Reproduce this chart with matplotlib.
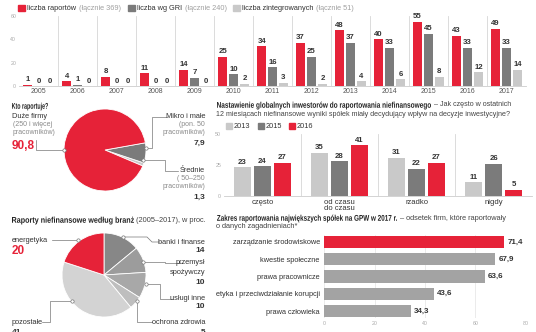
import matplotlib
matplotlib.use("Agg")
import matplotlib.pyplot as plt
import matplotlib.transforms as mtransforms
from matplotlib.textpath import TextPath
from matplotlib.patches import PathPatch
from matplotlib.font_manager import FontProperties
import numpy as np

W, H = 536, 332
RED = "#e62238"
DARK = "#7b7b7b"
LIGHT = "#c9c9c9"
TXT = "#333333"
GRAYTXT = "#8a8a8a"

# --- data -------------------------------------------------------------
years = ["2005", "2006", "2007", "2008", "2009", "2010", "2011",
         "2012", "2013", "2014", "2015", "2016", "2017"]
reports = [1, 4, 8, 11, 14, 25, 34, 37, 48, 40, 55, 43, 49]
gri = [0, 1, 0, 0, 7, 10, 16, 25, 37, 33, 45, 33, 33]
integrated = [0, 0, 0, 0, 0, 2, 3, 2, 4, 6, 8, 12, 14]

who_labels = ["Średnie", "Mikro i małe", "Duże firmy"]
who_values = [1.3, 7.9, 90.8]

inv_cats = ["często", "od czasu\ndo czasu", "rzadko", "nigdy"]
inv_2013 = [23, 35, 31, 11]
inv_2015 = [24, 28, 22, 26]
inv_2016 = [27, 41, 27, 5]

ind_labels = ["banki i finanse", "przemysł\nspożywczy", "usługi inne",
              "ochrona zdrowia", "pozostałe", "energetyka"]
ind_values = [14, 10, 10, 5, 41, 20]

gpw_labels = ["zarządzanie środowiskowe", "kwestie społeczne",
              "prawa pracownicze", "etyka i przeciwdziałanie korupcji",
              "prawa człowieka"]
gpw_values = [71.4, 67.9, 63.6, 43.6, 34.3]

plt.rcParams["font.family"] = ["Liberation Sans", "DejaVu Sans"]
FS = 5.3


def fmt(v):
    return ("%g" % v).replace(".", ",")


def axes_px(fig, x0, y0, x1, y1):
    return fig.add_axes([x0 / W, 1 - y1 / H, (x1 - x0) / W, (y1 - y0) / H])


def clean(ax):
    for s in ax.spines.values():
        s.set_visible(False)
    ax.tick_params(length=0)


fig = plt.figure(figsize=(W / 100, H / 100), dpi=100)

# overlay in pixel coordinates for texts and leader lines
ov = fig.add_axes([0, 0, 1, 1], zorder=10)
ov.set_xlim(0, W)
ov.set_ylim(H, 0)
ov.axis("off")


def squeezed(x, yc, s, width, fs=6.0, color="#222222"):
    """Bold text drawn as a path, squeezed horizontally to a given pixel width
    (the original uses a condensed bold face)."""
    fp = FontProperties(family="Liberation Sans", weight="bold")
    tp = TextPath((0, 0), s, size=fs * 100 / 72, prop=fp)
    ext = tp.get_extents()
    sx = width / ext.width
    base = yc + fs * 100 / 72 * 0.33
    tr = mtransforms.Affine2D().scale(sx, -1).translate(x - ext.x0 * sx, base) + ov.transData
    ov.add_patch(PathPatch(tp, transform=tr, facecolor=color, edgecolor="none"))
    return x + width


def two_part(x, y, bold, width, rest, rsize=FS, c2="#444444"):
    xe = squeezed(x, y, bold, width)
    ov.text(xe + 0.5, y, rest, fontsize=rsize, color=c2, va="center")


# --- chart 1: reports by year ----------------------------------------
ax1 = axes_px(fig, 19, 16, 526, 86)
x = np.arange(len(years))
off, bw = 0.28, 0.23
for vals, dx, col in [(reports, -off, RED), (gri, 0, DARK), (integrated, off, LIGHT)]:
    ax1.bar(x + dx, vals, bw, color=col, zorder=2)
    for xi, v in zip(x, vals):
        ax1.text(xi + dx, v + 1.2, str(v), ha="center", va="bottom",
                 fontsize=5.6, fontweight="bold", color=TXT)
for i in range(len(years) - 1):
    ax1.axvline(i + 0.5, color="#d6d6d6", lw=0.6, zorder=1)
ax1.set_xlim(-0.5, len(years) - 0.5)
ax1.set_ylim(0, 60)
ax1.set_yticks([0, 20, 40, 60])
ax1.tick_params(axis="y", labelsize=3.8, labelcolor="#aaaaaa", pad=2)
ax1.set_xticks(x)
ax1.set_xticklabels(years, fontsize=5, color="#555555")
ax1.tick_params(axis="x", pad=1.5)
clean(ax1)
ax1.spines["bottom"].set_visible(True)
ax1.spines["bottom"].set_color("#cccccc")
ax1.spines["bottom"].set_linewidth(0.6)

# legend chart 1
leg = [(18, RED, "liczba raportów", " (łącznie 369)"),
       (128, DARK, "liczba wg GRI", " (łącznie 240)"),
       (233, LIGHT, "liczba zintegrowanych", " (łącznie 51)")]
for lx, col, t1, t2 in leg:
    ov.add_patch(plt.Rectangle((lx, 5), 7, 6, color=col))
    a = ov.text(lx + 9, 8.2, t1, fontsize=FS, color=TXT, va="center")
    fig.canvas.draw()
    ov.text(lx + 10 + a.get_window_extent().width, 8.2, t2, fontsize=FS,
            color="#a0a0a0", va="center")

# --- chart 2: who reports pie -----------------------------------------
squeezed(12, 106, "Kto raportuje?", 36)
r = 41
axp = axes_px(fig, 105 - r, 150 - r, 105 + r, 150 + r)
axp.pie(who_values, colors=[LIGHT, DARK, RED], startangle=-23, counterclock=True,
        wedgeprops=dict(edgecolor="white", linewidth=0.6))
axp.set_xlim(-1, 1)
axp.set_ylim(-1, 1)

LC = "#777777"


def dot(px, py):
    ov.plot([px], [py], "o", ms=2.4, mfc="white", mec=LC, mew=0.5)


ov.text(12, 117, who_labels[2], fontsize=FS, color=TXT, va="center")
ov.text(13, 125, "(250 i więcej", fontsize=5, color=GRAYTXT, va="center")
ov.text(13, 133, "pracowników)", fontsize=5, color=GRAYTXT, va="center")
ov.text(12, 146, fmt(who_values[2]), fontsize=8.5, fontweight="bold", color=RED, va="center")
ov.plot([36, 36, 64], [140, 150, 150], color=LC, lw=0.5)
dot(64, 150)

ov.text(205, 117, who_labels[1], fontsize=FS, color=TXT, va="center", ha="right")
ov.text(205, 125, "(pon. 50", fontsize=5, color=GRAYTXT, va="center", ha="right")
ov.text(205, 133, "pracowników)", fontsize=5, color=GRAYTXT, va="center", ha="right")
ov.text(205, 143, fmt(who_values[1]), fontsize=6, fontweight="bold", color=TXT, va="center", ha="right")
ov.plot([146, 152, 152, 167], [148, 148, 117, 117], color=LC, lw=0.5)
dot(146, 148)

ov.text(205, 171, who_labels[0], fontsize=FS, color=TXT, va="center", ha="right")
ov.text(205, 179, "( 50–250", fontsize=5, color=GRAYTXT, va="center", ha="right")
ov.text(205, 187, "pracowników)", fontsize=5, color=GRAYTXT, va="center", ha="right")
ov.text(205, 197, fmt(who_values[0]), fontsize=6, fontweight="bold", color=TXT, va="center", ha="right")
ov.plot([143, 165, 165, 178], [160, 160, 171, 171], color=LC, lw=0.5)
dot(143, 160)

# --- chart 3: investors ------------------------------------------------
two_part(217, 105, "Nastawienie globalnych inwestorów do raportowania niefinansowego", 214,
         " – Jak często w ostatnich", rsize=5.1)
ov.text(216, 114, "12 miesiącach niefinansowe wyniki spółek miały decydujący wpływ na decyzje inwestycyjne?",
        fontsize=5.1, color="#444444", va="center")
for lx, col, lab in [(226, LIGHT, "2013"), (258, DARK, "2015"), (289, RED, "2016")]:
    ov.add_patch(plt.Rectangle((lx, 123), 6, 6, color=col))
    ov.text(lx + 8, 126.2, lab, fontsize=FS, color=TXT, va="center")

ax2 = axes_px(fig, 224, 134, 532, 196)
xi = np.arange(len(inv_cats))
off2, bw2 = 0.26, 0.22
for vals, dx, col in [(inv_2013, -off2, LIGHT), (inv_2015, 0, DARK), (inv_2016, off2, RED)]:
    ax2.bar(xi + dx, vals, bw2, color=col, zorder=2)
    for xx, v in zip(xi, vals):
        ax2.text(xx + dx, v + 1.2, str(v), ha="center", va="bottom",
                 fontsize=5.6, fontweight="bold", color=TXT)
for i in range(len(inv_cats) - 1):
    ax2.axvline(i + 0.5, color="#d6d6d6", lw=0.6, zorder=1)
ax2.set_xlim(-0.5, len(inv_cats) - 0.5)
ax2.set_ylim(0, 50)
ax2.set_yticks([0, 25, 50])
ax2.tick_params(axis="y", labelsize=3.8, labelcolor="#aaaaaa", pad=2)
ax2.set_xticks(xi)
ax2.set_xticklabels(inv_cats, fontsize=5.5, color=TXT, linespacing=0.9, va="top")
ax2.tick_params(axis="x", pad=2)
clean(ax2)
ax2.spines["bottom"].set_visible(True)
ax2.spines["bottom"].set_color("#cccccc")
ax2.spines["bottom"].set_linewidth(0.6)

# --- chart 4: industries pie ------------------------------------------
two_part(12, 220, "Raporty niefinansowe według branż", 122, " (2005–2017), w proc.")
r2 = 42
axq = axes_px(fig, 104 - r2, 275 - r2, 104 + r2, 275 + r2)
axq.pie(ind_values, colors=["#878787", "#9c9c9c", "#a8a8a8", "#bebebe", "#d3d3d3", RED],
        startangle=90, counterclock=False,
        wedgeprops=dict(edgecolor="white", linewidth=0.6))
axq.set_xlim(-1, 1)
axq.set_ylim(-1, 1)

ov.text(12, 240, ind_labels[5], fontsize=FS, color=TXT, va="center")
ov.text(12, 251, str(ind_values[5]), fontsize=8.5, fontweight="bold", color=RED, va="center")
ov.plot([52, 78], [240, 240], color=LC, lw=0.5)
dot(78, 240)

ov.text(205, 242, ind_labels[0], fontsize=FS, color=TXT, va="center", ha="right")
ov.text(205, 250, str(ind_values[0]), fontsize=6, fontweight="bold", color=TXT, va="center", ha="right")
ov.plot([123, 147, 152, 160], [237, 237, 242, 242], color=LC, lw=0.5)
dot(123, 237)

p1, p2 = ind_labels[1].split("\n")
ov.text(205, 263, p1, fontsize=FS, color=TXT, va="center", ha="right")
ov.text(205, 272, p2, fontsize=FS, color=TXT, va="center", ha="right")
ov.text(205, 282, str(ind_values[1]), fontsize=6, fontweight="bold", color=TXT, va="center", ha="right")
ov.plot([143, 165, 165, 182], [262, 262, 263, 263], color=LC, lw=0.5)
dot(143, 262)

ov.text(205, 299, ind_labels[2], fontsize=FS, color=TXT, va="center", ha="right")
ov.text(205, 307, str(ind_values[2]), fontsize=6, fontweight="bold", color=TXT, va="center", ha="right")
ov.plot([146, 160, 160, 173], [284, 284, 299, 299], color=LC, lw=0.5)
dot(146, 284)

ov.text(205, 322, ind_labels[3], fontsize=FS, color=TXT, va="center", ha="right")
ov.text(205, 329, str(ind_values[3]), fontsize=6, fontweight="bold", color=TXT, va="top", ha="right")
ov.plot([137, 137, 152], [301, 322, 322], color=LC, lw=0.5)
dot(137, 301)

ov.text(12, 322, ind_labels[4], fontsize=FS, color=TXT, va="center")
ov.text(12, 329, str(ind_values[4]), fontsize=6, fontweight="bold", color=TXT, va="top")
ov.plot([42, 50, 50, 72], [322, 322, 301, 301], color=LC, lw=0.5)
dot(72, 301)

# --- chart 5: GPW scope ------------------------------------------------
two_part(217, 218, "Zakres raportowania największych spółek na GPW w 2017 r.", 180,
         " – odsetek firm, które raportowały")
ov.text(216, 227, "o danych zagadnieniach*", fontsize=FS, color="#444444", va="center")

ax3 = axes_px(fig, 324, 235, 526, 318)
yy = np.arange(len(gpw_labels))
cols = [RED] + ["#a3a3a3"] * (len(gpw_labels) - 1)
ax3.barh(yy, gpw_values, 0.7, color=cols, zorder=2)
for y_, v in zip(yy, gpw_values):
    ax3.text(v + 1.2, y_, fmt(v), va="center", ha="left", fontsize=5.8,
             fontweight="bold", color=TXT)
ax3.set_ylim(len(gpw_labels) - 0.6, -0.4)
ax3.set_xlim(0, 80)
ax3.set_xticks([0, 20, 40, 60, 80])
ax3.grid(axis="x", color="#e3e3e3", lw=0.5, zorder=0)
ax3.set_yticks(yy)
ax3.set_yticklabels(gpw_labels, fontsize=FS, color=TXT)
ax3.tick_params(axis="y", pad=3)
ax3.tick_params(axis="x", labelsize=3.8, labelcolor="#aaaaaa", pad=2)
clean(ax3)

fig.savefig("out.png", dpi=100)
